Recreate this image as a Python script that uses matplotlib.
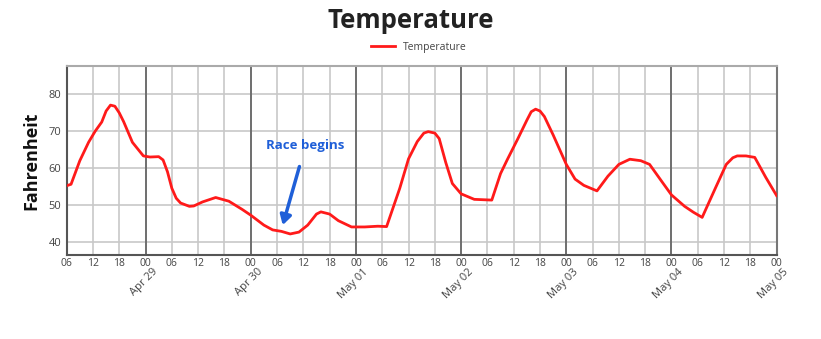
import datetime as dt
import numpy as np
import matplotlib.pyplot as plt
import matplotlib.dates as mdates
import matplotlib.transforms as mtransforms

# hours after Apr 28 06:00 and temperature (F)
hours = [0, 1, 3, 5, 6.5, 8, 9, 10, 11, 12, 13, 15, 17.5, 19, 21, 22, 23, 24,
         25, 26, 28, 29, 31, 34, 37, 40, 42, 45, 47, 49, 51, 53, 55, 57, 58,
         60, 62, 65, 68, 71, 73, 76, 78, 80, 81.5, 82.5, 84, 85, 86.5, 88, 90,
         93, 97, 99, 100.5, 103, 105, 106, 107, 108, 109, 111, 114, 116, 118,
         121, 123.5, 126, 128.5, 131, 133, 136, 138, 141, 143, 145, 148,
         150.5, 152, 153, 155, 157, 159.5, 162]
temps = [55.2, 55.6, 62.0, 67.0, 70.0, 72.5, 75.5, 77.1, 76.8, 75.0, 72.6,
         67.0, 63.3, 63.0, 63.1, 62.2, 59.0, 54.5, 51.8, 50.5, 49.6, 49.7,
         50.8, 52.0, 51.0, 48.8, 47.2, 44.5, 43.2, 42.8, 42.1, 42.6, 44.5,
         47.5, 48.1, 47.5, 45.7, 44.0, 44.0, 44.2, 44.1, 54.5, 62.5, 67.2,
         69.5, 69.9, 69.5, 68.0, 61.5, 55.8, 53.0, 51.5, 51.3, 58.5, 62.2,
         68.1, 73.0, 75.3, 76.0, 75.5, 74.0, 69.0, 61.0, 57.0, 55.3, 53.8,
         57.8, 61.0, 62.4, 62.0, 61.0, 56.0, 52.7, 49.6, 48.0, 46.6, 54.5,
         61.0, 62.8, 63.3, 63.3, 62.9, 57.5, 52.5]

start = dt.datetime(2016, 4, 28, 6)
end = dt.datetime(2016, 5, 5, 0)
times = [start + dt.timedelta(hours=h) for h in hours]

race_time = start + dt.timedelta(hours=49.3)
race_temp = 44.5
label_time = start + dt.timedelta(hours=54.5)
label_temp = 66.2

plt.rcParams['font.family'] = ['Open Sans', 'DejaVu Sans']

fig = plt.figure(figsize=(8.21, 3.39), dpi=100)
ax = fig.add_axes([0.0812, 0.248, 0.8648, 0.557])

ax.plot(times, temps, color='#ff1a1a', linewidth=2, label='Temperature', zorder=5)

ax.set_xlim(start, end)
ax.set_ylim(36.4, 87.7)
ax.set_yticks([40, 50, 60, 70, 80])

six = [start + dt.timedelta(hours=6 * i) for i in range(28)]
ax.set_xticks(six)
ax.set_xticklabels([t.strftime('%H') for t in six])
ax.grid(True, color='#c8c8c8', linewidth=1.2, zorder=0)
ax.set_axisbelow(True)

midnights = [t for t in six if t.hour == 0]
for m in midnights:
    ax.axvline(m, color='#555555', linewidth=1.1, zorder=1)

trans = mtransforms.blended_transform_factory(ax.transData, ax.transAxes)
for m in midnights:
    ax.text(m + dt.timedelta(hours=1.5), -0.06, m.strftime('%b %d'), transform=trans,
            rotation=45, ha='right', va='top', fontsize=8, color='#444444',
            rotation_mode='anchor')

ax.tick_params(axis='both', length=0, labelsize=7.5, labelcolor='#444444', pad=2)
ax.tick_params(axis='y', labelsize=8, pad=4)

for side in ['left', 'bottom']:
    ax.spines[side].set_color('#555555')
    ax.spines[side].set_linewidth(1.5)
for side in ['top', 'right']:
    ax.spines[side].set_color('#aaaaaa')
    ax.spines[side].set_linewidth(1.5)
ax.spines['right'].set_color('#777777')

ax.set_ylabel('Fahrenheit', fontsize=13, fontweight='bold', color='#111111', labelpad=6)

ax.annotate('Race begins', xy=(race_time, race_temp), xytext=(label_time, label_temp),
            color='#1f5fd8', fontsize=9.5, fontweight='bold', ha='center', va='center',
            arrowprops=dict(arrowstyle='-|>,head_width=0.35,head_length=0.6',
                            color='#1f5fd8', linewidth=2.5, shrinkA=9, shrinkB=0))

fig.suptitle('Temperature', fontsize=18.5, fontweight='bold', color='#222222', y=0.98)
fig.legend(loc='upper center', bbox_to_anchor=(0.51, 0.905), frameon=False,
           fontsize=7.5, labelcolor='#444444', handlelength=2.3, handletextpad=0.7)

fig.savefig('out.png', dpi=100)
